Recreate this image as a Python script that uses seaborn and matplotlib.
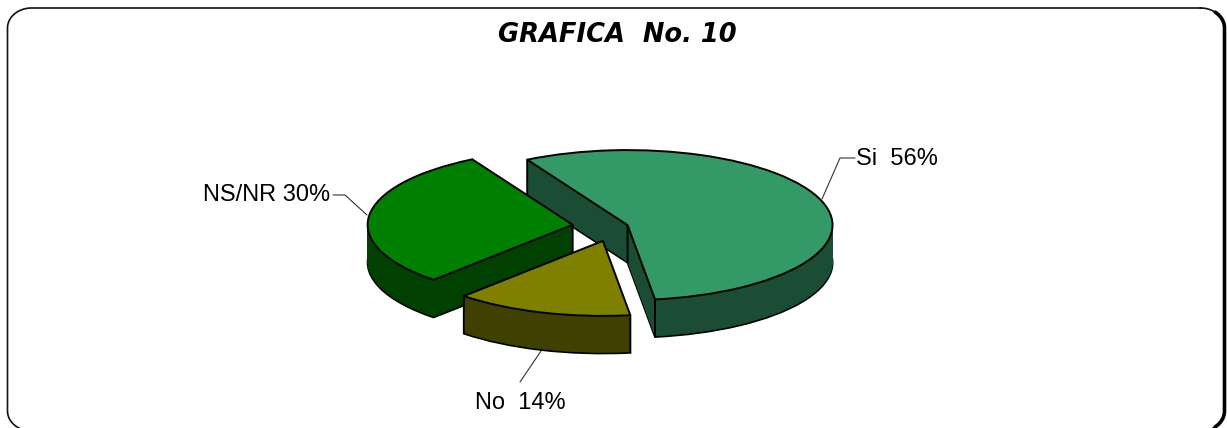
import numpy as np
import matplotlib.pyplot as plt
import seaborn as sns

# chart values
labels = ['Si', 'NS/NR', 'No']
values = [56, 30, 14]
explode = [0.0635, 0.209, 0.20]
top_colors = ['#339966', '#008000', '#808000']
side_colors = ['#1A4D33', '#004000', '#404000']
label_text = ['Si  56%', 'NS/NR 30%', 'No  14%']

# which vertical edges show: (start corner, apex, end corner)
show_edges = [(True, True, True), (True, True, False), (True, False, True)]

# pie placement on the 1227x428 picture
W, H = 1227, 428
CX, CY = 615.2, 226.6
RX, RY = 205.0, 75.0
DEPTH = 37.5 / RY
LW = 1.4


def draw_slice(ax, i):
    """One exploded slice: stacked dark copies for the side, light one on top."""
    n_layers = 40
    for step, d in enumerate(np.linspace(DEPTH, 0, n_layers)):
        top = step == n_layers - 1
        # the pie gets all the values so the angles stay right, the rest is dropped
        wedges, _ = ax.pie(values, explode=explode, startangle=-82.3,
                           center=(0, -d), radius=1,
                           colors=['none'] * len(values),
                           wedgeprops={'linewidth': 0})
        for j, w in enumerate(wedges):
            if j != i:
                w.remove()
                continue
            w.set_facecolor(top_colors[i] if top else side_colors[i])
            w.set_edgecolor('black' if step == 0 or top else side_colors[i])
            w.set_linewidth(LW if step == 0 or top else 0.3)
            w.set_zorder(2 + i + (0.5 if top else step / 100))
            w.set_joinstyle('round')
            if top:
                cx, cy = w.center
                ang = np.radians([w.theta1, w.theta2])
                pts = [(cx + np.cos(ang[0]), cy + np.sin(ang[0])),
                       (cx, cy),
                       (cx + np.cos(ang[1]), cy + np.sin(ang[1]))]
                for (px, py), vis in zip(pts, show_edges[i]):
                    if vis:
                        ax.plot([px, px], [py, py - DEPTH], color='black', lw=LW,
                                zorder=2 + i + 0.45, snap=False)


def frame_path(x0, y0, x1, y1, rx, ry):
    """Closed rounded rectangle as a plain polyline, picture pixels."""
    t = np.linspace(0, np.pi / 2, 20)
    xs = np.r_[x1 - rx + rx * np.sin(t), x1 - rx + rx * np.cos(t),
               x0 + rx - rx * np.sin(t), x0 + rx - rx * np.cos(t)]
    ys = np.r_[y0 + ry - ry * np.cos(t), y1 - ry + ry * np.sin(t),
               y1 - ry + ry * np.cos(t), y0 + ry - ry * np.sin(t)]
    return np.r_[xs, xs[0]], np.r_[ys, ys[0]]


sns.set_theme(style='white')
plt.rcParams['font.family'] = ['Liberation Sans', 'DejaVu Sans']

fig = plt.figure(figsize=(W / 100, H / 100), dpi=100, facecolor='white')

ax = fig.add_axes([0, 0, 1, 1])
for i in range(len(values)):
    draw_slice(ax, i)
ax.set_aspect('auto')
ax.set_xlim(-CX / RX, (W - CX) / RX)
ax.set_ylim((CY - H) / RY, CY / RY)
ax.axis('off')

# overlay in picture pixels for frame, title and labels
over = fig.add_axes([0, 0, 1, 1], facecolor='none')
over.set_xlim(0, W)
over.set_ylim(H, 0)
over.axis('off')

fx, fy = frame_path(7.5, 8, 1224.5, 431, 24, 20)
over.plot(fx, fy, color='#111111', lw=1.2)
# right side of the frame is heavier in the reference
over.plot(fx[8:32], fy[8:32], color='black', lw=2.6)

over.text(617, 34.5, 'GRAFICA  No. 10', ha='center', va='center', fontsize=18.5,
          family='DejaVu Sans', fontweight='bold', fontstyle='oblique', color='black')

over.plot([822, 840, 855], [199, 158, 158], color='#333333', lw=0.8)
over.plot([333, 345, 367], [195, 195, 215], color='#333333', lw=0.8)
over.plot([520, 541], [382, 351], color='#333333', lw=0.8)

over.text(856, 159, label_text[0], ha='left', va='center', fontsize=17, color='black')
over.text(330, 195, label_text[1], ha='right', va='center', fontsize=17, color='black')
over.text(520, 403, label_text[2], ha='center', va='center', fontsize=17, color='black')

fig.savefig('out.png', dpi=100, facecolor='white')
